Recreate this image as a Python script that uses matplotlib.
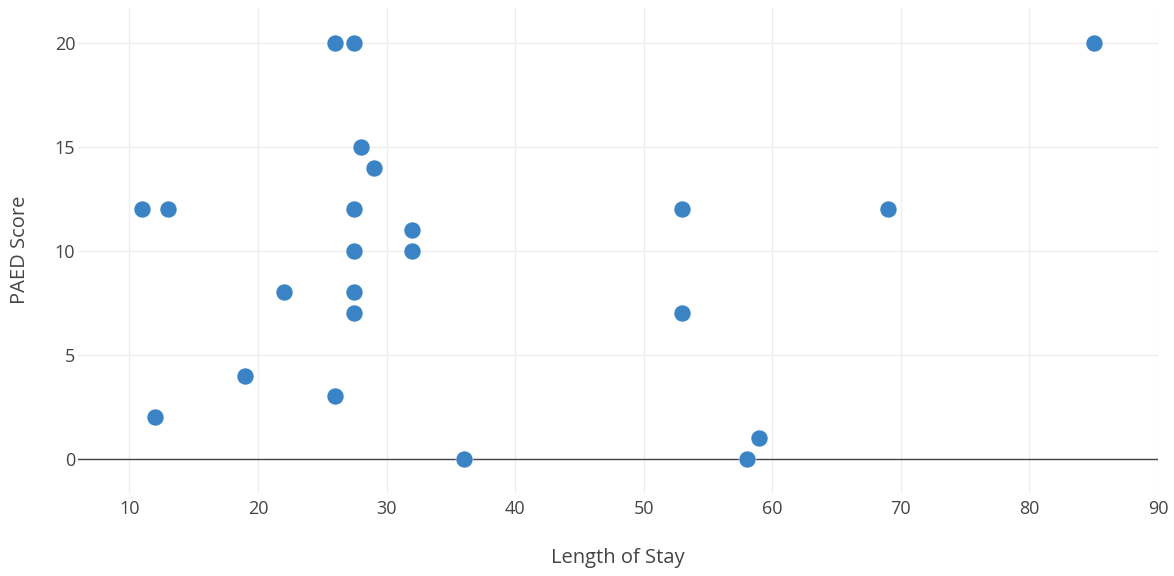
import matplotlib as mpl
mpl.use('Agg')
import matplotlib.pyplot as plt

# length of stay vs PAED score
length_of_stay = [26, 27.5, 85, 28, 29, 11, 13, 27.5, 53, 69, 32, 27.5, 32,
                  22, 27.5, 27.5, 53, 19, 26, 12, 36, 58, 59]
paed_score = [20, 20, 20, 15, 14, 12, 12, 12, 12, 12, 11, 10, 10,
              8, 8, 7, 7, 4, 3, 2, 0, 0, 1]

x_ticks = [10, 20, 30, 40, 50, 60, 70, 80, 90]
y_ticks = [0, 5, 10, 15, 20]

plt.rcParams['font.family'] = ['Open Sans', 'DejaVu Sans']
text_col = '#444444'

fig = plt.figure(figsize=(11.74, 5.76), dpi=100)
ax = fig.add_axes([78 / 1174, 83 / 576, 1080 / 1174, 485 / 576])

ax.scatter(length_of_stay, paed_score, s=150, color='#3a84c6',
           edgecolors='white', linewidths=0.4, zorder=3, clip_on=False)

ax.set_xlim(6.0, 90.0)
ax.set_ylim(-1.65, 21.68)
ax.set_xticks(x_ticks)
ax.set_yticks(y_ticks)
ax.grid(True, color='#eeeeee', linewidth=1)
ax.set_axisbelow(True)
ax.axhline(0, color=text_col, linewidth=1, zorder=2)

for s in ax.spines.values():
    s.set_visible(False)
ax.tick_params(length=0, labelsize=13, labelcolor=text_col)
ax.tick_params(axis='y', pad=2)
ax.tick_params(axis='x', pad=5)

# axis titles placed in figure pixels
fig.text(618 / 1174, 1 - 558 / 576, 'Length of Stay', fontsize=14.5,
         color=text_col, ha='center', va='center')
fig.text(20 / 1174, 1 - 250 / 576, 'PAED Score', fontsize=14.5,
         color=text_col, ha='center', va='center', rotation=90)

fig.savefig('out.png', dpi=100)
